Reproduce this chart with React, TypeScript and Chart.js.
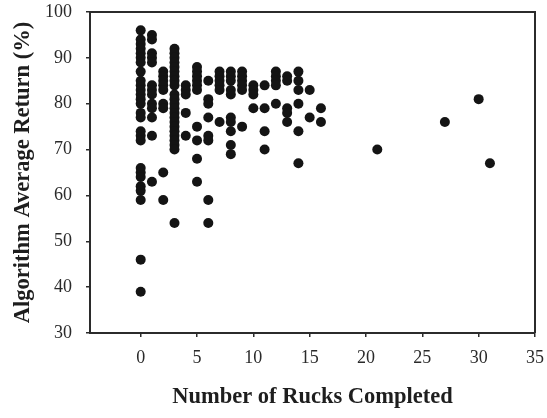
import React, { useEffect, useRef } from "react";
import { Chart, registerables } from "chart.js";

Chart.register(...registerables);

// Average return (%) observed for each number of rucks completed
const returnsAt0 = [96, 94, 93, 92, 91, 90, 89, 87, 85, 84, 83, 82, 81, 80, 78, 77, 74, 73, 72, 66, 65, 64, 62, 61, 59, 46, 39];
const returnsAt1 = [95, 94, 91, 90, 89, 84, 83, 82, 80, 79, 77, 73, 63];
const returnsAt2 = [87, 86, 85, 84, 83, 80, 79, 65, 59];
const returnsAt3 = [92, 91, 90, 89, 88, 87, 86, 85, 84, 82, 81, 80, 79, 78, 77, 76, 75, 74, 73, 72, 71, 70, 54];
const returnsAt4 = [84, 83, 82, 78, 73];
const returnsAt5 = [88, 87, 86, 85, 84, 83, 75, 72, 68, 63];
const returnsAt6 = [85, 81, 80, 77, 73, 72, 59, 54];
const returnsAt7 = [87, 86, 85, 84, 83, 76];
const returnsAt8 = [87, 86, 85, 83, 82, 77, 76, 74, 71, 69];
const returnsAt9 = [87, 86, 85, 84, 83, 75];
const returnsAt10 = [84, 83, 82, 79];
const returnsAt11 = [84, 79, 74, 70];
const returnsAt12 = [87, 86, 85, 84, 80];
const returnsAt13 = [86, 85, 79, 78, 76];
const returnsAt14 = [87, 85, 83, 80, 74, 67];
const returnsAt15 = [83, 77];
const returnsAt16 = [79, 76];
const returnsAt21 = [70];
const returnsAt27 = [76];
const returnsAt30 = [81];
const returnsAt31 = [67];

const rucksCompleted = [0, 1, 2, 3, 4, 5, 6, 7, 8, 9, 10, 11, 12, 13, 14, 15, 16, 21, 27, 30, 31];
const returnColumns = [
  returnsAt0, returnsAt1, returnsAt2, returnsAt3, returnsAt4, returnsAt5, returnsAt6,
  returnsAt7, returnsAt8, returnsAt9, returnsAt10, returnsAt11, returnsAt12, returnsAt13,
  returnsAt14, returnsAt15, returnsAt16, returnsAt21, returnsAt27, returnsAt30, returnsAt31,
];

const xTickValues = [0, 5, 10, 15, 20, 25, 30, 35];
const yTickValues = [30, 40, 50, 60, 70, 80, 90, 100];

const xTitle = "Number of Rucks Completed";
const yTitle = "Algorithm Average Return (%)";

const FONT = "'Liberation Serif', 'Times New Roman', serif";
const AXIS_COLOR = "#2b2b2b";

// draws the top and right edges of the plot box
const framePlugin = {
  id: "plotFrameEdges",
  afterDraw(chart: any) {
    const ctx = chart.ctx as CanvasRenderingContext2D;
    const a = chart.chartArea;
    ctx.save();
    ctx.strokeStyle = AXIS_COLOR;
    ctx.lineWidth = 2;
    ctx.beginPath();
    ctx.moveTo(Math.round(a.left), Math.round(a.top));
    ctx.lineTo(Math.round(a.right), Math.round(a.top));
    ctx.lineTo(Math.round(a.right), Math.round(a.bottom));
    ctx.stroke();
    ctx.restore();
  },
};

export default function App() {
  const ref = useRef<HTMLCanvasElement | null>(null);

  useEffect(() => {
    if (!ref.current) return;
    const points: { x: number; y: number }[] = [];
    rucksCompleted.forEach((r, i) => {
      returnColumns[i].forEach((v) => points.push({ x: r, y: v }));
    });

    const chart = new Chart(ref.current, {
      type: "scatter",
      data: {
        datasets: [
          {
            data: points,
            backgroundColor: "#141414",
            borderColor: "#141414",
            borderWidth: 0,
            pointRadius: 5,
            pointHoverRadius: 5,
          },
        ],
      },
      plugins: [framePlugin],
      options: {
        animation: false,
        responsive: false,
        events: [],
        layout: { padding: { top: 12, right: 12, left: 0, bottom: 0 } },
        plugins: { legend: { display: false }, tooltip: { enabled: false } },
        scales: {
          x: {
            type: "linear",
            position: "bottom",
            min: -4.5,
            max: 35,
            afterBuildTicks: (scale: any) => {
              scale.ticks = xTickValues.map((v) => ({ value: v }));
            },
            afterFit: (scale: any) => {
              scale.height = 85;
              scale.paddingLeft = 0;
              scale.paddingRight = 0;
            },
            border: { display: true, color: AXIS_COLOR, width: 2 },
            grid: {
              drawOnChartArea: false,
              drawTicks: true,
              tickLength: 4,
              color: AXIS_COLOR,
              lineWidth: 1.5,
            },
            ticks: {
              autoSkip: false,
              maxRotation: 0,
              padding: 10,
              color: "#2a2a2a",
              font: { family: FONT, size: 18 },
            },
            title: {
              display: true,
              text: xTitle,
              color: "#1e1e1e",
              font: { family: FONT, size: 22.5, weight: "bold" },
              padding: { top: 0, bottom: 7 },
            },
          },
          y: {
            type: "linear",
            position: "left",
            min: 30,
            max: 100,
            afterBuildTicks: (scale: any) => {
              scale.ticks = yTickValues.map((v) => ({ value: v }));
            },
            afterFit: (scale: any) => {
              scale.width = 90;
              scale.paddingTop = 0;
              scale.paddingBottom = 0;
            },
            border: { display: true, color: AXIS_COLOR, width: 2 },
            grid: {
              drawOnChartArea: false,
              drawTicks: true,
              tickLength: 4,
              color: AXIS_COLOR,
              lineWidth: 1.5,
            },
            ticks: {
              autoSkip: false,
              padding: 14,
              color: "#2a2a2a",
              font: { family: FONT, size: 18 },
            },
            title: {
              display: true,
              text: yTitle,
              color: "#1e1e1e",
              font: { family: FONT, size: 22.5, weight: "bold" },
              padding: { top: 10, bottom: 0 },
            },
          },
        },
      },
    } as any);

    return () => chart.destroy();
  }, []);

  return (
    <div style={{ position: "fixed", left: 0, top: 0, width: 547, height: 418, background: "#fff" }}>
      <canvas ref={ref} width={547} height={418} style={{ display: "block" }} />
    </div>
  );
}
